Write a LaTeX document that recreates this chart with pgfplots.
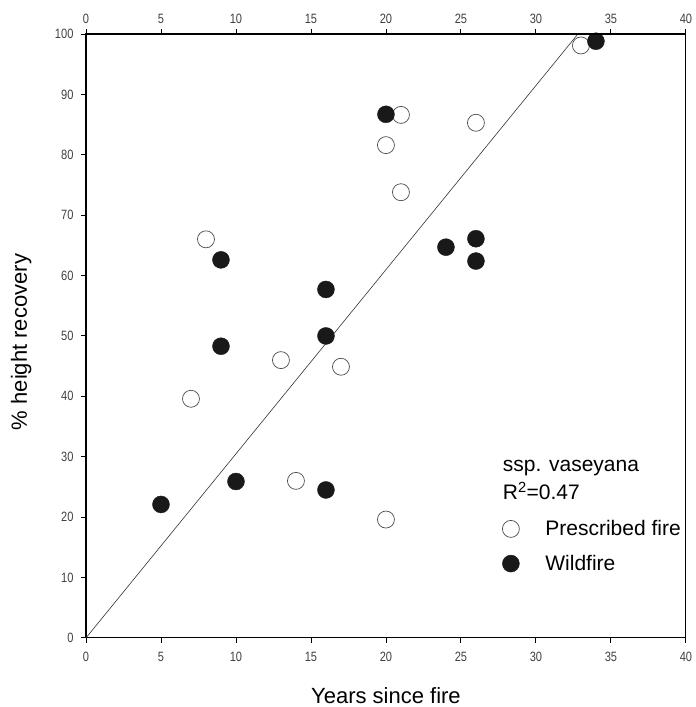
\documentclass[border=0pt]{standalone}
\usepackage{fontspec}
\setmainfont{Liberation Sans}
\newfontfamily\narrowfont[FakeStretch=0.82]{Liberation Sans}
\usepackage{pgfplots}
\pgfplotsset{compat=1.18}

\begin{document}
\begin{tikzpicture}
\pgfplotsset{
  frame/.style={
    scale only axis, width=600pt, height=604pt,
    xmin=0, xmax=40, ymin=0, ymax=100,
    xtick={0,5,...,40},
    tick align=outside, major tick length=5pt,
    axis line style={black, line width=1.1pt},
    tick style={black, line width=0.9pt},
    tick label style={text=black!75, font=\narrowfont\fontsize{13.5}{14}\selectfont},
    /pgf/number format/assume math mode=true,
  }
}
\begin{axis}[frame, name=main,
    ytick={0,10,...,100},
    xtick pos=bottom, ytick pos=left,
    x tick label style={yshift=-6pt},
    y tick label style={xshift=-4pt},
    clip=false,
    xlabel={Years since fire},
    ylabel={\% height recovery},
    label style={font=\fontsize{22}{24}\selectfont},
    x label style={at={(axis description cs:0.5,-0.0955)}, anchor=center},
    y label style={at={(axis description cs:-0.108,0.49)}, anchor=center},
    legend cell align=left,
    legend style={at={(axis cs:27.75,19.8)}, anchor=north west, draw=none, fill=none,
      font=\fontsize{21}{23}\selectfont, row sep=14pt, inner sep=0pt,
      /tikz/every odd column/.append style={column sep=24pt}},
  ]
  \addplot[black!80, line width=0.6pt, forget plot] coordinates {(0,0) (32.8,100)};
  \addplot[only marks, mark=*, mark size=8.5pt,
    mark options={draw=black!70, fill=white, line width=0.7pt}]
    coordinates {
      (7,39.6) (8,66.0) (13,46.0) (14,26.0) (17,44.9)
      (20,81.6) (20,19.6) (21,73.8) (21,86.6) (26,85.3) (33,98.1)
    };
  \addlegendentry{Prescribed fire}
  \addplot[only marks, mark=*, mark size=8.5pt,
    mark options={draw=black!90, fill=black!90}]
    coordinates {
      (5,22.1) (9,62.6) (9,48.3) (10,25.9) (16,57.7) (16,50.0) (16,24.5)
      (20,86.7) (24,64.7) (26,66.1) (26,62.4) (34,98.8)
    };
  \addlegendentry{Wildfire}
  \node[anchor=west, font=\fontsize{21}{23}\selectfont, inner sep=0]
    at (axis cs:27.78,28.2) {ssp. vaseyana};
  \node[anchor=west, font=\fontsize{21}{23}\selectfont, inner sep=0]
    at (axis cs:27.78,24.3) {R\textsuperscript{2}=0.47};
\end{axis}
\begin{axis}[frame,
    axis x line*=top, axis y line=none,
    xtick pos=top,
    x tick label style={yshift=2pt},
  ]
  \addplot[draw=none] coordinates {(0,0)};
\end{axis}
\path (main.south west) ++(-86pt,-69pt) rectangle (main.north east) ++(8pt,34pt);
\end{tikzpicture}
\end{document}
